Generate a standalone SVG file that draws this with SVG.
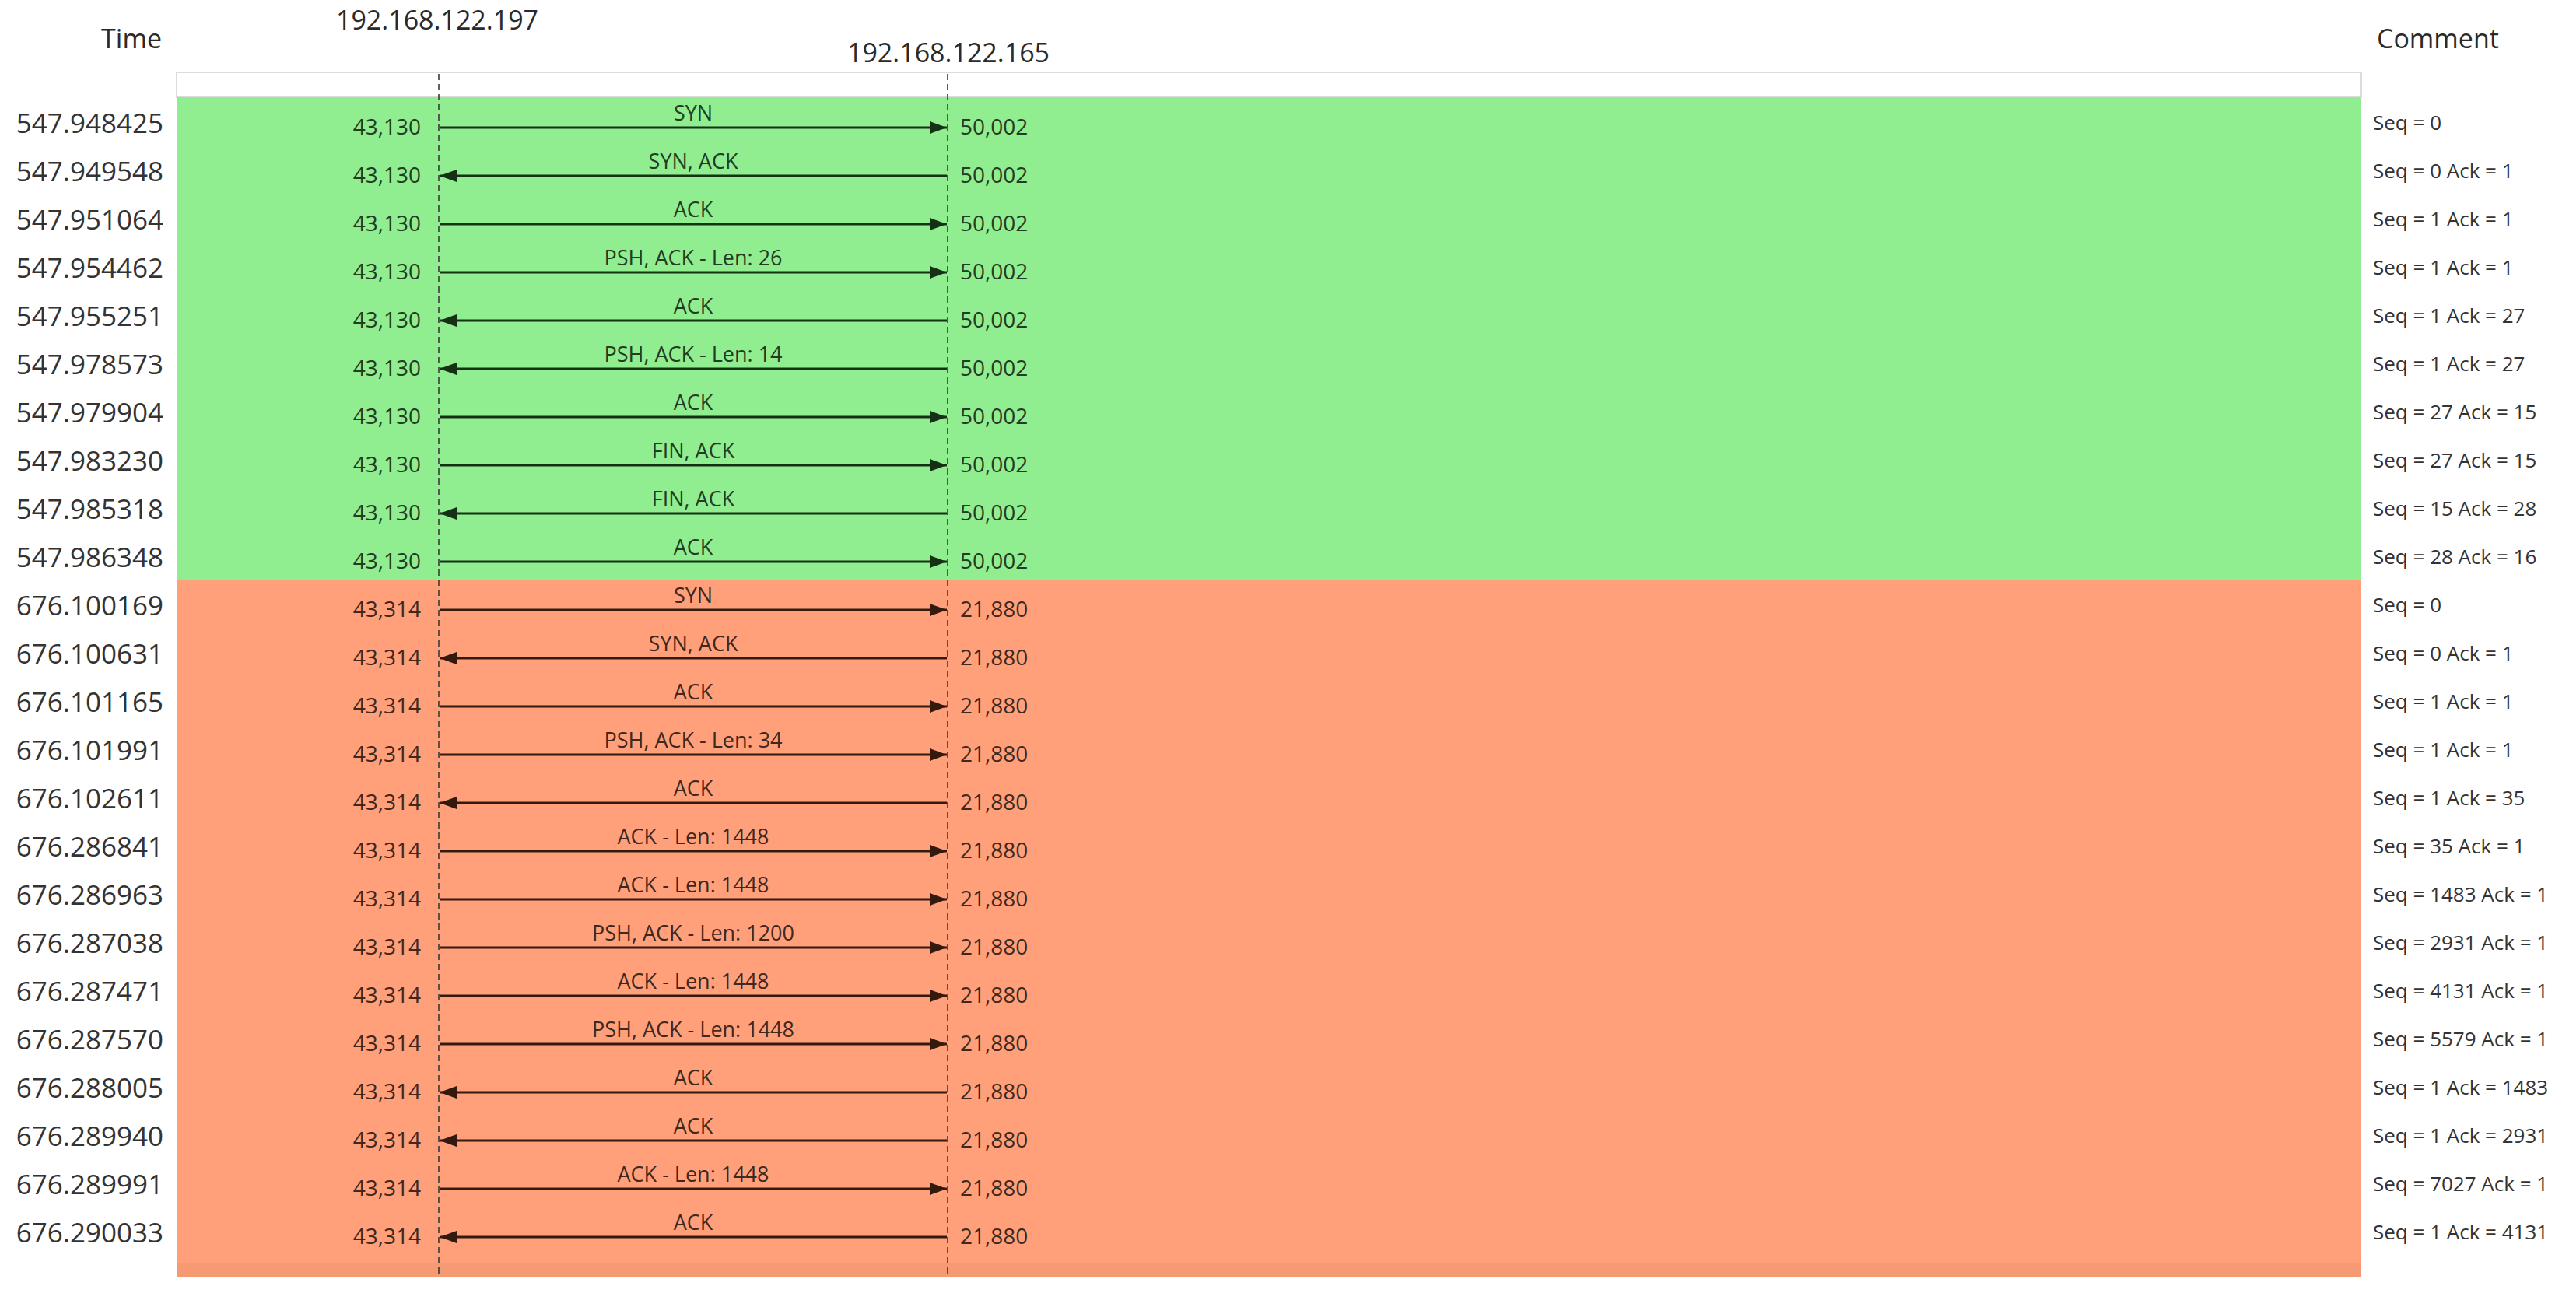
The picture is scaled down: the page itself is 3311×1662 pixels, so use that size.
<svg xmlns="http://www.w3.org/2000/svg" width="3311" height="1662" viewBox="0 0 3311 1662">
<style>
text{font-family:"Open Sans","Noto Sans","DejaVu Sans",sans-serif}
.hdr{font-size:34px;fill:#2a2a2a}
.time{font-size:35px;fill:#333;text-anchor:end}
.cmt{font-size:26px;fill:#333}
.pl{font-size:28px;text-anchor:end}
.pr{font-size:28px}
.lbl{font-size:27px;text-anchor:middle}
.g{fill:#243c24}
.o{fill:#40281f}
.ag{stroke:#163016;stroke-width:3;fill:none}
.ao{stroke:#34190f;stroke-width:3;fill:none}
.life{stroke:#3a3a3a;stroke-width:1.6;stroke-dasharray:8 5;fill:none}
</style>
<defs>
<marker id="hg" markerUnits="userSpaceOnUse" viewBox="0 0 22 16" refX="22" refY="8" markerWidth="22" markerHeight="16" orient="auto"><path d="M0,0 L22,8 L0,16 Z" fill="#163016"/></marker>
<marker id="ho" markerUnits="userSpaceOnUse" viewBox="0 0 22 16" refX="22" refY="8" markerWidth="22" markerHeight="16" orient="auto"><path d="M0,0 L22,8 L0,16 Z" fill="#34190f"/></marker>
</defs>
<rect x="0" y="0" width="3311" height="1662" fill="#fff"/>
<g id="headers">
<text class="hdr" x="208" y="62" text-anchor="end">Time</text>
<text class="hdr" x="562" y="38" text-anchor="middle">192.168.122.197</text>
<text class="hdr" x="1219" y="80" text-anchor="middle">192.168.122.165</text>
<text class="hdr" x="3055" y="62">Comment</text>
</g>
<g id="bands">
<rect x="227" y="93" width="2808" height="32" fill="#fff" stroke="#dcdcdc" stroke-width="2"/>
<rect id="conn1" x="227" y="125" width="2808" height="620" fill="#90EE90"/>
<rect id="conn2" x="227" y="745" width="2808" height="897" fill="#FFA07A"/>
<rect x="227" y="1624" width="2808" height="18" fill="#F59A73"/>
</g>
<g id="host-192-168-122-197"><line class="life" x1="564" y1="95" x2="564" y2="1642"/></g>
<g id="host-192-168-122-165"><line class="life" x1="1218" y1="95" x2="1218" y2="1642"/></g>
<g id="times">
<text class="time" x="210" y="171">547.948425</text>
<text class="time" x="210" y="233">547.949548</text>
<text class="time" x="210" y="295">547.951064</text>
<text class="time" x="210" y="357">547.954462</text>
<text class="time" x="210" y="419">547.955251</text>
<text class="time" x="210" y="481">547.978573</text>
<text class="time" x="210" y="543">547.979904</text>
<text class="time" x="210" y="605">547.983230</text>
<text class="time" x="210" y="667">547.985318</text>
<text class="time" x="210" y="729">547.986348</text>
<text class="time" x="210" y="791">676.100169</text>
<text class="time" x="210" y="853">676.100631</text>
<text class="time" x="210" y="915">676.101165</text>
<text class="time" x="210" y="977">676.101991</text>
<text class="time" x="210" y="1039">676.102611</text>
<text class="time" x="210" y="1101">676.286841</text>
<text class="time" x="210" y="1163">676.286963</text>
<text class="time" x="210" y="1225">676.287038</text>
<text class="time" x="210" y="1287">676.287471</text>
<text class="time" x="210" y="1349">676.287570</text>
<text class="time" x="210" y="1411">676.288005</text>
<text class="time" x="210" y="1473">676.289940</text>
<text class="time" x="210" y="1535">676.289991</text>
<text class="time" x="210" y="1597">676.290033</text>
</g>
<g id="ports">
<text class="pl g" x="541" y="173">43,130</text><text class="pr g" x="1234" y="173">50,002</text>
<text class="pl g" x="541" y="235">43,130</text><text class="pr g" x="1234" y="235">50,002</text>
<text class="pl g" x="541" y="297">43,130</text><text class="pr g" x="1234" y="297">50,002</text>
<text class="pl g" x="541" y="359">43,130</text><text class="pr g" x="1234" y="359">50,002</text>
<text class="pl g" x="541" y="421">43,130</text><text class="pr g" x="1234" y="421">50,002</text>
<text class="pl g" x="541" y="483">43,130</text><text class="pr g" x="1234" y="483">50,002</text>
<text class="pl g" x="541" y="545">43,130</text><text class="pr g" x="1234" y="545">50,002</text>
<text class="pl g" x="541" y="607">43,130</text><text class="pr g" x="1234" y="607">50,002</text>
<text class="pl g" x="541" y="669">43,130</text><text class="pr g" x="1234" y="669">50,002</text>
<text class="pl g" x="541" y="731">43,130</text><text class="pr g" x="1234" y="731">50,002</text>
<text class="pl o" x="541" y="793">43,314</text><text class="pr o" x="1234" y="793">21,880</text>
<text class="pl o" x="541" y="855">43,314</text><text class="pr o" x="1234" y="855">21,880</text>
<text class="pl o" x="541" y="917">43,314</text><text class="pr o" x="1234" y="917">21,880</text>
<text class="pl o" x="541" y="979">43,314</text><text class="pr o" x="1234" y="979">21,880</text>
<text class="pl o" x="541" y="1041">43,314</text><text class="pr o" x="1234" y="1041">21,880</text>
<text class="pl o" x="541" y="1103">43,314</text><text class="pr o" x="1234" y="1103">21,880</text>
<text class="pl o" x="541" y="1165">43,314</text><text class="pr o" x="1234" y="1165">21,880</text>
<text class="pl o" x="541" y="1227">43,314</text><text class="pr o" x="1234" y="1227">21,880</text>
<text class="pl o" x="541" y="1289">43,314</text><text class="pr o" x="1234" y="1289">21,880</text>
<text class="pl o" x="541" y="1351">43,314</text><text class="pr o" x="1234" y="1351">21,880</text>
<text class="pl o" x="541" y="1413">43,314</text><text class="pr o" x="1234" y="1413">21,880</text>
<text class="pl o" x="541" y="1475">43,314</text><text class="pr o" x="1234" y="1475">21,880</text>
<text class="pl o" x="541" y="1537">43,314</text><text class="pr o" x="1234" y="1537">21,880</text>
<text class="pl o" x="541" y="1599">43,314</text><text class="pr o" x="1234" y="1599">21,880</text>
</g>
<g id="connectors">
<line class="ag" x1="566" y1="164" x2="1217" y2="164" marker-end="url(#hg)"/><text class="lbl g" x="891" y="155">SYN</text>
<line class="ag" x1="1217" y1="226" x2="565" y2="226" marker-end="url(#hg)"/><text class="lbl g" x="891" y="217">SYN, ACK</text>
<line class="ag" x1="566" y1="288" x2="1217" y2="288" marker-end="url(#hg)"/><text class="lbl g" x="891" y="279">ACK</text>
<line class="ag" x1="566" y1="350" x2="1217" y2="350" marker-end="url(#hg)"/><text class="lbl g" x="891" y="341">PSH, ACK - Len: 26</text>
<line class="ag" x1="1217" y1="412" x2="565" y2="412" marker-end="url(#hg)"/><text class="lbl g" x="891" y="403">ACK</text>
<line class="ag" x1="1217" y1="474" x2="565" y2="474" marker-end="url(#hg)"/><text class="lbl g" x="891" y="465">PSH, ACK - Len: 14</text>
<line class="ag" x1="566" y1="536" x2="1217" y2="536" marker-end="url(#hg)"/><text class="lbl g" x="891" y="527">ACK</text>
<line class="ag" x1="566" y1="598" x2="1217" y2="598" marker-end="url(#hg)"/><text class="lbl g" x="891" y="589">FIN, ACK</text>
<line class="ag" x1="1217" y1="660" x2="565" y2="660" marker-end="url(#hg)"/><text class="lbl g" x="891" y="651">FIN, ACK</text>
<line class="ag" x1="566" y1="722" x2="1217" y2="722" marker-end="url(#hg)"/><text class="lbl g" x="891" y="713">ACK</text>
<line class="ao" x1="566" y1="784" x2="1217" y2="784" marker-end="url(#ho)"/><text class="lbl o" x="891" y="775">SYN</text>
<line class="ao" x1="1217" y1="846" x2="565" y2="846" marker-end="url(#ho)"/><text class="lbl o" x="891" y="837">SYN, ACK</text>
<line class="ao" x1="566" y1="908" x2="1217" y2="908" marker-end="url(#ho)"/><text class="lbl o" x="891" y="899">ACK</text>
<line class="ao" x1="566" y1="970" x2="1217" y2="970" marker-end="url(#ho)"/><text class="lbl o" x="891" y="961">PSH, ACK - Len: 34</text>
<line class="ao" x1="1217" y1="1032" x2="565" y2="1032" marker-end="url(#ho)"/><text class="lbl o" x="891" y="1023">ACK</text>
<line class="ao" x1="566" y1="1094" x2="1217" y2="1094" marker-end="url(#ho)"/><text class="lbl o" x="891" y="1085">ACK - Len: 1448</text>
<line class="ao" x1="566" y1="1156" x2="1217" y2="1156" marker-end="url(#ho)"/><text class="lbl o" x="891" y="1147">ACK - Len: 1448</text>
<line class="ao" x1="566" y1="1218" x2="1217" y2="1218" marker-end="url(#ho)"/><text class="lbl o" x="891" y="1209">PSH, ACK - Len: 1200</text>
<line class="ao" x1="566" y1="1280" x2="1217" y2="1280" marker-end="url(#ho)"/><text class="lbl o" x="891" y="1271">ACK - Len: 1448</text>
<line class="ao" x1="566" y1="1342" x2="1217" y2="1342" marker-end="url(#ho)"/><text class="lbl o" x="891" y="1333">PSH, ACK - Len: 1448</text>
<line class="ao" x1="1217" y1="1404" x2="565" y2="1404" marker-end="url(#ho)"/><text class="lbl o" x="891" y="1395">ACK</text>
<line class="ao" x1="1217" y1="1466" x2="565" y2="1466" marker-end="url(#ho)"/><text class="lbl o" x="891" y="1457">ACK</text>
<line class="ao" x1="566" y1="1528" x2="1217" y2="1528" marker-end="url(#ho)"/><text class="lbl o" x="891" y="1519">ACK - Len: 1448</text>
<line class="ao" x1="1217" y1="1590" x2="565" y2="1590" marker-end="url(#ho)"/><text class="lbl o" x="891" y="1581">ACK</text>
</g>
<g id="comments">
<text class="cmt" x="3050" y="167">Seq = 0</text>
<text class="cmt" x="3050" y="229">Seq = 0 Ack = 1</text>
<text class="cmt" x="3050" y="291">Seq = 1 Ack = 1</text>
<text class="cmt" x="3050" y="353">Seq = 1 Ack = 1</text>
<text class="cmt" x="3050" y="415">Seq = 1 Ack = 27</text>
<text class="cmt" x="3050" y="477">Seq = 1 Ack = 27</text>
<text class="cmt" x="3050" y="539">Seq = 27 Ack = 15</text>
<text class="cmt" x="3050" y="601">Seq = 27 Ack = 15</text>
<text class="cmt" x="3050" y="663">Seq = 15 Ack = 28</text>
<text class="cmt" x="3050" y="725">Seq = 28 Ack = 16</text>
<text class="cmt" x="3050" y="787">Seq = 0</text>
<text class="cmt" x="3050" y="849">Seq = 0 Ack = 1</text>
<text class="cmt" x="3050" y="911">Seq = 1 Ack = 1</text>
<text class="cmt" x="3050" y="973">Seq = 1 Ack = 1</text>
<text class="cmt" x="3050" y="1035">Seq = 1 Ack = 35</text>
<text class="cmt" x="3050" y="1097">Seq = 35 Ack = 1</text>
<text class="cmt" x="3050" y="1159">Seq = 1483 Ack = 1</text>
<text class="cmt" x="3050" y="1221">Seq = 2931 Ack = 1</text>
<text class="cmt" x="3050" y="1283">Seq = 4131 Ack = 1</text>
<text class="cmt" x="3050" y="1345">Seq = 5579 Ack = 1</text>
<text class="cmt" x="3050" y="1407">Seq = 1 Ack = 1483</text>
<text class="cmt" x="3050" y="1469">Seq = 1 Ack = 2931</text>
<text class="cmt" x="3050" y="1531">Seq = 7027 Ack = 1</text>
<text class="cmt" x="3050" y="1593">Seq = 1 Ack = 4131</text>
</g>
</svg>
